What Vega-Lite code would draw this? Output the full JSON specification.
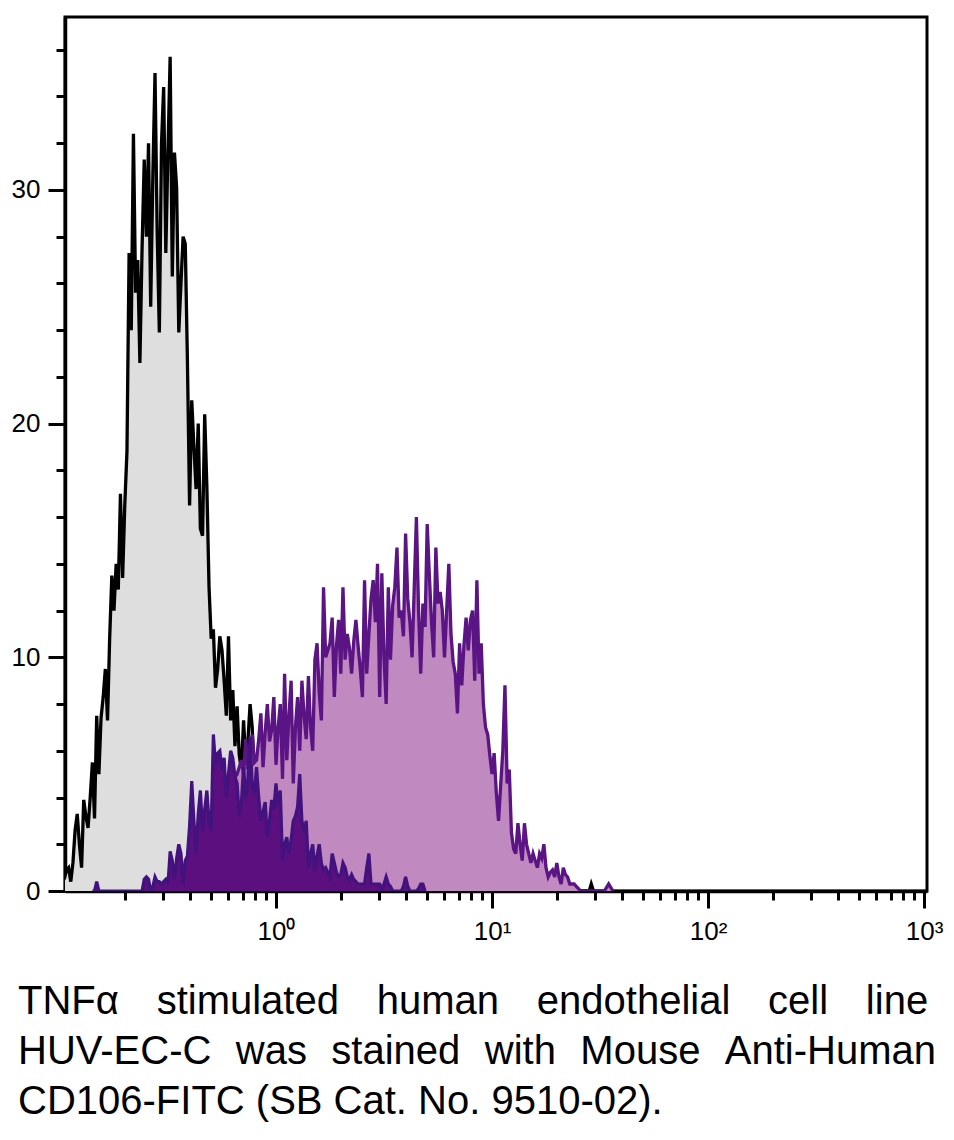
{
  "$schema": "https://vega.github.io/schema/vega-lite/v6.json",
  "width": 862,
  "height": 874,
  "autosize": {"type": "none"},
  "padding": {"left": 65, "top": 17, "right": 27, "bottom": 249},
  "background": "white",
  "config": {
    "view": {"stroke": "black", "strokeWidth": 3},
    "axis": {"domainColor": "black", "domainWidth": 3.5, "tickColor": "black", "tickWidth": 3, "labelColor": "black", "labelFont": "Liberation Sans", "labelFontSize": 26, "grid": false, "title": null, "labelFlush": false, "labelOverlap": false, "labelBound": false}
  },
  "title": {
    "text": ["TNFα \u2002\u2006stimulated \u2002\u2006human \u2002\u2006endothelial \u2002\u2006cell \u2002\u2006line", "HUV-EC-C \u2006\u2006was \u2006\u2006stained \u2006\u2006with \u2006\u2006Mouse \u2006\u2006Anti-Human", "CD106-FITC (SB Cat. No. 9510-02)."],
    "orient": "bottom",
    "anchor": "start",
    "frame": "group",
    "dx": -47,
    "offset": 38,
    "font": "Liberation Sans",
    "fontSize": 40,
    "fontWeight": "normal",
    "color": "black",
    "lineHeight": 50
  },
  "datasets": {
    "gray": [{"x":0.1047,"y":0.5},{"x":0.1072,"y":0.9},{"x":0.1096,"y":1.0},{"x":0.1122,"y":0.4},{"x":0.1148,"y":1.2},{"x":0.1175,"y":2.6},{"x":0.1202,"y":3.3},{"x":0.1230,"y":2.0},{"x":0.1259,"y":1.0},{"x":0.1288,"y":3.9},{"x":0.1318,"y":3.2},{"x":0.1349,"y":2.7},{"x":0.1380,"y":4.0},{"x":0.1413,"y":5.5},{"x":0.1445,"y":3.1},{"x":0.1479,"y":7.5},{"x":0.1514,"y":5.0},{"x":0.1549,"y":7.4},{"x":0.1585,"y":8.3},{"x":0.1622,"y":9.5},{"x":0.1660,"y":7.3},{"x":0.1698,"y":10.8},{"x":0.1738,"y":13.5},{"x":0.1778,"y":12.0},{"x":0.1820,"y":14.0},{"x":0.1862,"y":12.9},{"x":0.1905,"y":17.0},{"x":0.1950,"y":13.4},{"x":0.1995,"y":16.5},{"x":0.2042,"y":18.8},{"x":0.2089,"y":27.3},{"x":0.2138,"y":24.0},{"x":0.2188,"y":32.4},{"x":0.2239,"y":25.6},{"x":0.2291,"y":27.0},{"x":0.2344,"y":22.6},{"x":0.2399,"y":27.5},{"x":0.2455,"y":31.3},{"x":0.2512,"y":28.0},{"x":0.2570,"y":32.0},{"x":0.2630,"y":25.0},{"x":0.2692,"y":30.7},{"x":0.2754,"y":35.0},{"x":0.2818,"y":28.2},{"x":0.2884,"y":23.9},{"x":0.2951,"y":32.0},{"x":0.3020,"y":34.4},{"x":0.3090,"y":27.3},{"x":0.3162,"y":31.7},{"x":0.3236,"y":35.7},{"x":0.3311,"y":26.3},{"x":0.3388,"y":31.6},{"x":0.3467,"y":30.1},{"x":0.3548,"y":23.9},{"x":0.3631,"y":26.0},{"x":0.3715,"y":28.0},{"x":0.3802,"y":27.7},{"x":0.3890,"y":22.7},{"x":0.3981,"y":16.5},{"x":0.4074,"y":21.0},{"x":0.4169,"y":19.0},{"x":0.4266,"y":17.2},{"x":0.4365,"y":20.0},{"x":0.4467,"y":15.5},{"x":0.4571,"y":15.2},{"x":0.4677,"y":20.4},{"x":0.4786,"y":17.3},{"x":0.4898,"y":13.0},{"x":0.5012,"y":10.8},{"x":0.5129,"y":11.2},{"x":0.5248,"y":8.7},{"x":0.5370,"y":9.5},{"x":0.5495,"y":10.9},{"x":0.5623,"y":10.3},{"x":0.5754,"y":9.0},{"x":0.5888,"y":7.5},{"x":0.6026,"y":10.9},{"x":0.6166,"y":7.3},{"x":0.6310,"y":8.6},{"x":0.6457,"y":6.2},{"x":0.6607,"y":7.9},{"x":0.6761,"y":5.8},{"x":0.6918,"y":5.2},{"x":0.7079,"y":7.3},{"x":0.7244,"y":5.5},{"x":0.7413,"y":6.4},{"x":0.7586,"y":8.0},{"x":0.7762,"y":7.0},{"x":0.7943,"y":4.9},{"x":0.8128,"y":4.5},{"x":0.8318,"y":4.0},{"x":0.8511,"y":3.6},{"x":0.8710,"y":3.2},{"x":0.8913,"y":2.8},{"x":0.9120,"y":2.5},{"x":0.9333,"y":2.0},{"x":0.9550,"y":1.8},{"x":0.9772,"y":1.4},{"x":1,"y":1.0},{"x":1.047,"y":0.8},{"x":1.096,"y":0.4},{"x":1.148,"y":0.2},{"x":1.202,"y":0},{"x":28.2,"y":0},{"x":28.8,"y":0.3},{"x":29.5,"y":0}],
    "light": [{"x":0.3548,"y":0},{"x":0.3802,"y":0.6},{"x":0.4074,"y":1.2},{"x":0.4365,"y":1.8},{"x":0.4677,"y":2.6},{"x":0.5012,"y":3.2},{"x":0.5370,"y":3.8},{"x":0.5754,"y":4.3},{"x":0.6166,"y":4.6},{"x":0.6607,"y":5.0},{"x":0.6918,"y":5.6},{"x":0.7079,"y":5.0},{"x":0.7244,"y":6.5},{"x":0.7413,"y":5.2},{"x":0.7586,"y":6.0},{"x":0.7762,"y":6.7},{"x":0.7943,"y":5.5},{"x":0.8128,"y":5.6},{"x":0.8318,"y":6.5},{"x":0.8511,"y":7.6},{"x":0.8710,"y":5.3},{"x":0.8913,"y":6.8},{"x":0.9120,"y":8.0},{"x":0.9333,"y":6.4},{"x":0.9550,"y":6.9},{"x":0.9772,"y":8.3},{"x":1,"y":5.4},{"x":1.023,"y":7.0},{"x":1.047,"y":8.0},{"x":1.072,"y":4.8},{"x":1.096,"y":9.3},{"x":1.122,"y":5.6},{"x":1.148,"y":7.5},{"x":1.175,"y":9.0},{"x":1.202,"y":4.6},{"x":1.230,"y":7.0},{"x":1.259,"y":8.3},{"x":1.288,"y":6.0},{"x":1.318,"y":9.0},{"x":1.349,"y":7.5},{"x":1.380,"y":6.5},{"x":1.413,"y":9.2},{"x":1.445,"y":7.0},{"x":1.479,"y":6.0},{"x":1.514,"y":9.9},{"x":1.549,"y":10.6},{"x":1.585,"y":8.5},{"x":1.622,"y":7.3},{"x":1.660,"y":13.0},{"x":1.698,"y":10.0},{"x":1.738,"y":10.3},{"x":1.778,"y":10.6},{"x":1.820,"y":11.7},{"x":1.862,"y":8.3},{"x":1.905,"y":10.5},{"x":1.950,"y":11.6},{"x":1.995,"y":9.3},{"x":2.042,"y":13.0},{"x":2.089,"y":9.9},{"x":2.138,"y":11.0},{"x":2.188,"y":10.4},{"x":2.239,"y":9.3},{"x":2.291,"y":10.7},{"x":2.344,"y":11.6},{"x":2.399,"y":10.5},{"x":2.455,"y":9.5},{"x":2.512,"y":8.3},{"x":2.570,"y":13.3},{"x":2.630,"y":9.3},{"x":2.692,"y":11.0},{"x":2.754,"y":12.5},{"x":2.818,"y":13.3},{"x":2.884,"y":11.5},{"x":2.951,"y":14.0},{"x":3.020,"y":8.3},{"x":3.090,"y":13.6},{"x":3.162,"y":10.0},{"x":3.236,"y":8.0},{"x":3.311,"y":13.0},{"x":3.388,"y":9.9},{"x":3.467,"y":12.2},{"x":3.548,"y":13.0},{"x":3.631,"y":14.7},{"x":3.715,"y":11.7},{"x":3.802,"y":12.0},{"x":3.890,"y":10.9},{"x":3.981,"y":15.3},{"x":4.074,"y":12.5},{"x":4.169,"y":11.5},{"x":4.266,"y":10.0},{"x":4.365,"y":13.0},{"x":4.467,"y":16.0},{"x":4.571,"y":12.0},{"x":4.677,"y":9.3},{"x":4.786,"y":12.3},{"x":4.898,"y":11.3},{"x":5.012,"y":15.7},{"x":5.129,"y":13.5},{"x":5.248,"y":11.5},{"x":5.370,"y":10.0},{"x":5.495,"y":14.7},{"x":5.623,"y":12.3},{"x":5.754,"y":12.8},{"x":5.888,"y":12.0},{"x":6.026,"y":10.0},{"x":6.166,"y":12.0},{"x":6.310,"y":14.0},{"x":6.457,"y":11.0},{"x":6.607,"y":9.8},{"x":6.761,"y":9.3},{"x":6.918,"y":7.6},{"x":7.079,"y":10.6},{"x":7.244,"y":8.8},{"x":7.413,"y":10.5},{"x":7.586,"y":11.7},{"x":7.762,"y":10.3},{"x":7.943,"y":11.6},{"x":8.128,"y":12.0},{"x":8.318,"y":9.0},{"x":8.511,"y":13.3},{"x":8.710,"y":9.3},{"x":8.913,"y":10.6},{"x":9.120,"y":8.0},{"x":9.333,"y":7.0},{"x":9.550,"y":6.7},{"x":9.772,"y":5.8},{"x":10,"y":5.0},{"x":10.23,"y":5.9},{"x":10.47,"y":4.2},{"x":10.72,"y":3.0},{"x":10.96,"y":4.5},{"x":11.22,"y":6.0},{"x":11.48,"y":8.8},{"x":11.75,"y":4.6},{"x":12.02,"y":5.2},{"x":12.30,"y":2.5},{"x":12.59,"y":1.8},{"x":12.88,"y":1.6},{"x":13.18,"y":2.9},{"x":13.49,"y":2.0},{"x":13.80,"y":1.3},{"x":14.13,"y":2.9},{"x":14.45,"y":2.0},{"x":14.79,"y":1.6},{"x":15.14,"y":1.2},{"x":15.49,"y":1.6},{"x":15.85,"y":1.3},{"x":16.22,"y":1.0},{"x":16.60,"y":1.6},{"x":16.98,"y":1.4},{"x":17.38,"y":2.0},{"x":17.78,"y":1.0},{"x":18.20,"y":0.6},{"x":18.62,"y":0.8},{"x":19.05,"y":0.9},{"x":19.50,"y":0.6},{"x":19.95,"y":1.2},{"x":20.42,"y":0.6},{"x":20.89,"y":0.3},{"x":21.38,"y":1.0},{"x":21.88,"y":0.7},{"x":22.39,"y":0.6},{"x":22.91,"y":0.3},{"x":23.44,"y":0.3},{"x":23.99,"y":0.3},{"x":24.55,"y":0.2},{"x":25.12,"y":0.1},{"x":25.70,"y":0},{"x":33.11,"y":0},{"x":34.67,"y":0.3},{"x":36.31,"y":0}],
    "dark": [{"x":0.1413,"y":0},{"x":0.1445,"y":0},{"x":0.1479,"y":0.4},{"x":0.1514,"y":0},{"x":0.2399,"y":0},{"x":0.2455,"y":0.5},{"x":0.2512,"y":0.6},{"x":0.2570,"y":0.5},{"x":0.2630,"y":0},{"x":0.2692,"y":0.2},{"x":0.2754,"y":0.6},{"x":0.2818,"y":0.4},{"x":0.2884,"y":0.4},{"x":0.2951,"y":0.3},{"x":0.3020,"y":0.4},{"x":0.3090,"y":0.5},{"x":0.3162,"y":0.3},{"x":0.3236,"y":1.7},{"x":0.3311,"y":1.3},{"x":0.3388,"y":0.5},{"x":0.3467,"y":1.4},{"x":0.3548,"y":2.0},{"x":0.3631,"y":1.6},{"x":0.3715,"y":0.3},{"x":0.3802,"y":1.3},{"x":0.3890,"y":1.5},{"x":0.3981,"y":2.8},{"x":0.4074,"y":4.7},{"x":0.4169,"y":3.0},{"x":0.4266,"y":1.6},{"x":0.4365,"y":3.3},{"x":0.4467,"y":4.3},{"x":0.4571,"y":2.6},{"x":0.4677,"y":3.5},{"x":0.4786,"y":4.3},{"x":0.4898,"y":3.0},{"x":0.5012,"y":2.6},{"x":0.5129,"y":6.7},{"x":0.5248,"y":5.4},{"x":0.5370,"y":5.9},{"x":0.5495,"y":6.0},{"x":0.5623,"y":5.2},{"x":0.5754,"y":5.7},{"x":0.5888,"y":4.0},{"x":0.6026,"y":5.0},{"x":0.6166,"y":6.0},{"x":0.6310,"y":5.7},{"x":0.6457,"y":4.9},{"x":0.6607,"y":4.6},{"x":0.6761,"y":3.2},{"x":0.6918,"y":3.8},{"x":0.7079,"y":5.3},{"x":0.7244,"y":4.0},{"x":0.7413,"y":4.8},{"x":0.7586,"y":6.6},{"x":0.7762,"y":4.5},{"x":0.7943,"y":4.2},{"x":0.8128,"y":5.3},{"x":0.8318,"y":4.0},{"x":0.8511,"y":3.0},{"x":0.8710,"y":3.4},{"x":0.8913,"y":3.8},{"x":0.9120,"y":2.3},{"x":0.9333,"y":3.0},{"x":0.9550,"y":3.9},{"x":0.9772,"y":3.5},{"x":1,"y":4.6},{"x":1.023,"y":3.6},{"x":1.047,"y":4.3},{"x":1.072,"y":1.3},{"x":1.096,"y":2.0},{"x":1.122,"y":2.3},{"x":1.148,"y":1.6},{"x":1.175,"y":2.2},{"x":1.202,"y":3.0},{"x":1.230,"y":3.2},{"x":1.259,"y":3.6},{"x":1.288,"y":5.0},{"x":1.318,"y":3.0},{"x":1.349,"y":2.5},{"x":1.380,"y":3.0},{"x":1.413,"y":1.0},{"x":1.445,"y":1.6},{"x":1.479,"y":2.0},{"x":1.514,"y":0.9},{"x":1.549,"y":1.5},{"x":1.585,"y":2.0},{"x":1.622,"y":1.2},{"x":1.660,"y":0.9},{"x":1.698,"y":1.0},{"x":1.738,"y":0.8},{"x":1.778,"y":0.6},{"x":1.820,"y":1.6},{"x":1.862,"y":1.2},{"x":1.905,"y":0.8},{"x":1.950,"y":0.6},{"x":1.995,"y":0.7},{"x":2.042,"y":1.2},{"x":2.089,"y":1.0},{"x":2.138,"y":0.6},{"x":2.188,"y":0.5},{"x":2.239,"y":0.7},{"x":2.291,"y":0.5},{"x":2.344,"y":0.4},{"x":2.399,"y":0.3},{"x":2.512,"y":0.3},{"x":2.570,"y":0.3},{"x":2.630,"y":1.0},{"x":2.692,"y":1.6},{"x":2.754,"y":0.3},{"x":2.884,"y":0.3},{"x":3.020,"y":0.3},{"x":3.090,"y":0.1},{"x":3.162,"y":0.3},{"x":3.236,"y":0.6},{"x":3.311,"y":0.3},{"x":3.388,"y":0.2},{"x":3.467,"y":0},{"x":3.802,"y":0},{"x":3.890,"y":0.2},{"x":3.981,"y":0.6},{"x":4.074,"y":0.2},{"x":4.169,"y":0},{"x":4.467,"y":0},{"x":4.571,"y":0.1},{"x":4.677,"y":0.3},{"x":4.786,"y":0.3},{"x":4.898,"y":0}]
  },
  "layer": [
    {
      "data": {"name": "gray"},
      "mark": {"type": "area", "fill": "#dedede", "opacity": 1, "fillOpacity": 1, "clip": true},
      "encoding": {
        "x": {"field": "x", "type": "quantitative", "scale": {"type": "log", "domain": [0.1055, 1032], "nice": false},
              "axis": {"orient": "bottom", "values": [1, 10, 100, 1000], "tickSize": 17, "labelPadding": 10,
                       "labelExpr": "datum.value == 1 ? '10⁰' : datum.value == 10 ? '10¹' : datum.value == 100 ? '10²' : '10³'"}},
        "y": {"field": "y", "type": "quantitative", "scale": {"domain": [0, 37.4], "nice": false, "zero": true},
              "axis": {"orient": "left", "values": [0, 10, 20, 30], "tickSize": 17, "labelPadding": 8}}
      }
    },
    {
      "data": {"name": "gray"},
      "mark": {"type": "line", "color": "black", "strokeWidth": 3.3, "opacity": 1, "clip": true},
      "encoding": {
        "x": {"field": "x", "type": "quantitative",
              "axis": {"orient": "bottom", "values": [0.2, 0.3, 0.4, 0.5, 0.6, 0.7, 0.8, 0.9, 2, 3, 4, 5, 6, 7, 8, 9, 20, 30, 40, 50, 60, 70, 80, 90, 200, 300, 400, 500, 600, 700, 800, 900], "tickSize": 9, "labels": false, "domain": false}},
        "y": {"field": "y", "type": "quantitative",
              "axis": {"orient": "left", "values": [2, 4, 6, 8, 12, 14, 16, 18, 22, 24, 26, 28, 32, 34, 36], "tickSize": 9, "labels": false, "domain": false}}
      }
    },
    {
      "data": {"name": "light"},
      "mark": {"type": "area", "fill": "#c089c0", "opacity": 1, "fillOpacity": 1, "clip": true},
      "encoding": {
        "x": {"field": "x", "type": "quantitative", "axis": null},
        "y": {"field": "y", "type": "quantitative", "axis": null}
      }
    },
    {
      "data": {"name": "light"},
      "mark": {"type": "line", "color": "#5a1483", "strokeWidth": 3.3, "opacity": 1, "clip": true},
      "encoding": {
        "x": {"field": "x", "type": "quantitative", "axis": null},
        "y": {"field": "y", "type": "quantitative", "axis": null}
      }
    },
    {
      "data": {"name": "dark"},
      "mark": {"type": "area", "fill": "#5c0f7e", "opacity": 1, "fillOpacity": 1, "clip": true},
      "encoding": {
        "x": {"field": "x", "type": "quantitative", "axis": null},
        "y": {"field": "y", "type": "quantitative", "axis": null}
      }
    },
    {
      "data": {"name": "dark"},
      "mark": {"type": "line", "color": "#42137f", "strokeWidth": 3.2, "opacity": 1, "clip": true},
      "encoding": {
        "x": {"field": "x", "type": "quantitative", "axis": null},
        "y": {"field": "y", "type": "quantitative", "axis": null}
      }
    }
  ],
  "resolve": {"axis": {"x": "independent", "y": "independent"}}
}
